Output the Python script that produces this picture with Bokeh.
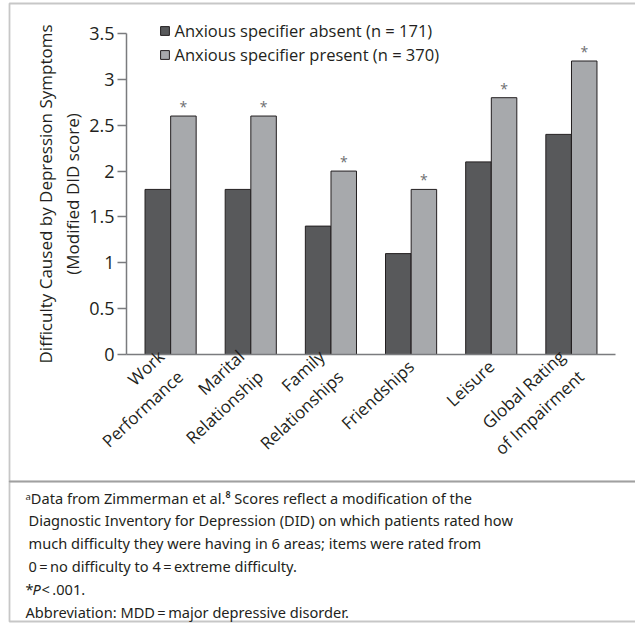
import math
from bokeh.plotting import figure
from bokeh.models import (Range1d, ColumnDataSource, Legend, LegendItem, Label,
                          BoxAnnotation, NumeralTickFormatter, FixedTicker)
from bokeh.core.properties import value
from bokeh.embed import file_html
from bokeh.resources import INLINE

# ---- data ----
categories = ["Work\nPerformance", "Marital\nRelationship", "Family\nRelationships",
              "Friendships", "Leisure", "Global Rating\nof Impairment"]
absent = [1.8, 1.8, 1.4, 1.1, 2.1, 2.4]
present = [2.6, 2.6, 2.0, 1.8, 2.8, 3.2]
significant = ["*", "*", "*", "*", "*", "*"]
series_names = ["Anxious specifier absent (n = 171)", "Anxious specifier present (n = 370)"]
y_ticks = [0, 0.5, 1, 1.5, 2, 2.5, 3, 3.5]
y_title = "Difficulty Caused by Depression Symptoms\n(Modified DID score)"
footnote_lines = [
    "\u1d43Data from Zimmerman et al.\u2078 Scores reflect a modification of the",
    "Diagnostic Inventory for Depression (DID) on which patients rated how",
    "much difficulty they were having in 6 areas; items were rated from",
    "0\u2009=\u2009no difficulty to 4\u2009=\u2009extreme difficulty.",
    None,
    "Abbreviation: MDD\u2009=\u2009major depressive disorder.",
]

FONT = "Open Sans"
NOTE_FONT = "Noto Sans"
TXT = "#231f20"
DARK = "#58595b"
LIGHT = "#a7a9ac"
AXIS = "#7a7b7e"
FRAME_LINE = "#474747"

idx = list(range(len(categories)))
off = 0.16
bw = 0.318
src = ColumnDataSource(dict(
    xa=[i - off for i in idx], xp=[i + off for i in idx],
    absent=absent, present=present, star=significant))

# whole canvas is the frame; the chart's axes sit at fixed locations inside it
W, H = 635, 624
AX_L, AX_R, AX_T, AX_B = 126, 615, 33, 354   # axis box in canvas px
XA0, XA1 = -0.55, 5.55
YA0, YA1 = 0.0, 3.5
kx = (AX_R - AX_L) / (XA1 - XA0)
ky = (AX_B - AX_T) / (YA1 - YA0)
def dx(px):
    return XA0 + (px - AX_L) / kx
def dy(py):
    return YA0 + (AX_B - py) / ky

p = figure(width=W, height=H, output_backend="svg", toolbar_location=None,
           x_range=Range1d(dx(0), dx(W)), y_range=Range1d(dy(H), dy(0)))
p.min_border = 0
p.outline_line_color = None
p.grid.visible = False
p.background_fill_color = "white"
p.border_fill_color = "white"

ra = p.vbar(x="xa", top="absent", width=bw, source=src, fill_color=DARK,
            line_color=TXT, line_width=1)
rp = p.vbar(x="xp", top="present", width=bw, source=src, fill_color=LIGHT,
            line_color=TXT, line_width=1)
p.text(x="xp", y="present", text="star", source=src, text_align="center",
       text_baseline="bottom", text_font=value(FONT), text_font_size="14px",
       text_color="#6d6e71", y_offset=0)

# y axis
ya = p.yaxis[0]
ya.fixed_location = XA0
ya.ticker = FixedTicker(ticks=y_ticks)
ya.formatter = NumeralTickFormatter(format="0.[0]")
ya.bounds = (YA0, YA1)
ya.axis_line_color = AXIS
ya.axis_line_width = 1.5
ya.major_tick_line_color = AXIS
ya.major_tick_line_width = 1.5
ya.major_tick_out = 9
ya.major_tick_in = 0
ya.minor_tick_line_color = None
ya.major_label_standoff = 3
ya.major_label_text_font = FONT
ya.major_label_text_font_size = "18px"
ya.major_label_text_color = TXT
ya.axis_label = y_title
ya.axis_label_text_font = FONT
ya.axis_label_text_font_size = "17px"
ya.axis_label_text_font_style = "normal"
ya.axis_label_text_color = TXT
ya.axis_label_standoff = 2

# x axis
xa = p.xaxis[0]
xa.fixed_location = YA0
xa.bounds = (XA0, XA1)
xa.ticker = FixedTicker(ticks=idx)
xa.major_label_overrides = {i: c for i, c in zip(idx, categories)}
xa.major_label_orientation = math.radians(43)
xa.axis_line_color = AXIS
xa.axis_line_width = 1.5
xa.major_tick_line_color = None
xa.minor_tick_line_color = None
xa.major_label_standoff = 3
xa.major_label_text_font = FONT
xa.major_label_text_font_size = "17px"
xa.major_label_text_color = TXT

# legend: tuple location = bottom-left of legend relative to frame bottom-left
legend = Legend(items=[LegendItem(label=series_names[0], renderers=[ra]),
                       LegendItem(label=series_names[1], renderers=[rp])],
                location=(158.5, H - 66), orientation="vertical",
                glyph_width=11, glyph_height=11, label_standoff=5,
                label_height=21, spacing=1, padding=0, margin=0,
                border_line_color=None, background_fill_alpha=0,
                label_text_font=FONT, label_text_font_size="16.5px",
                label_text_color=TXT)
p.add_layout(legend, "center")

# border boxes
p.add_layout(BoxAnnotation(left=dx(9), right=dx(700), top=dy(3), bottom=dy(481),
                           fill_alpha=0, line_color=FRAME_LINE, line_width=1.8))
p.add_layout(BoxAnnotation(left=dx(9), right=dx(700), top=dy(481), bottom=dy(621),
                           fill_alpha=0, line_color=FRAME_LINE, line_width=1.8))

line_y = [497, 519.8, 542.6, 565.4, 588.2, 611]
line_x = [25, 28, 28, 28, 25, 25]
for t, lx, ly in zip(footnote_lines, line_x, line_y):
    if t is None:
        continue
    p.add_layout(Label(x=dx(lx), y=dy(ly), text=t, text_font=NOTE_FONT,
                       text_font_size="14.6px", text_color=TXT,
                       text_baseline="middle"))
for t, lx, st in [("*", 25, "normal"), ("P", 32, "italic"), ("<\u2009.001.", 41, "normal")]:
    p.add_layout(Label(x=dx(lx), y=dy(line_y[4]), text=t, text_font=NOTE_FONT,
                       text_font_size="14.6px", text_font_style=st, text_color=TXT,
                       text_baseline="middle"))

open("out.html", "w").write(file_html(p, INLINE))
